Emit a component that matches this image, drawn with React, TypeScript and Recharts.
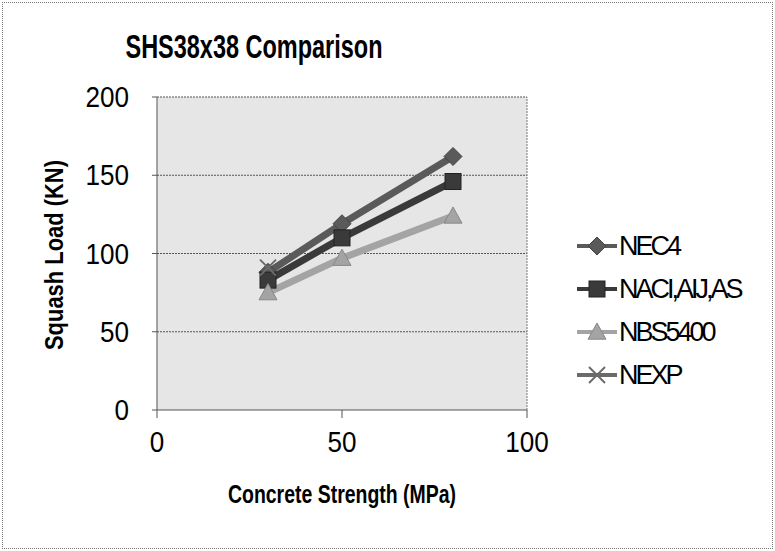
import React from "react";
import { LineChart, Line, XAxis, YAxis, CartesianGrid, ReferenceLine } from "recharts";

const strengths = [30, 50, 80];
const nec4 = [88, 119, 162];
const naci = [83, 110, 146];
const nbs5400 = [75, 97, 124];
const nexp: (number | null)[] = [91, null, null];
const xTicks = [0, 50, 100];
const yTicks = [0, 50, 100, 150, 200];
const seriesNames = ["NEC4", "NACI,AIJ,AS", "NBS5400", "NEXP"];
const legendLabels = ["NEC4", "NACI,AIJ,AS", "NBS5400", "NEXP"];

const data = strengths.map((x, i) => ({
  x,
  NEC4: nec4[i],
  "NACI,AIJ,AS": naci[i],
  NBS5400: nbs5400[i],
  NEXP: nexp[i],
}));

const colors = ["#5a5a5a", "#3a3a3a", "#a4a4a4", "#6a6a6a"];
const FONT = "'Liberation Sans', Arial, sans-serif";

function Marker({ kind, cx, cy, color }: { kind: number; cx: number; cy: number; color: string }) {
  if (cx == null || cy == null || isNaN(cx) || isNaN(cy)) return null;
  if (kind === 0) {
    const s = 9;
    return <polygon points={`${cx},${cy - s} ${cx + s},${cy} ${cx},${cy + s} ${cx - s},${cy}`} fill={color} stroke="#444" strokeWidth={1} />;
  }
  if (kind === 1) {
    const s = 8;
    return <rect x={cx - s} y={cy - s} width={2 * s} height={2 * s} fill={color} stroke="#222" strokeWidth={1} />;
  }
  if (kind === 2) {
    const s = 9;
    return <polygon points={`${cx},${cy - s} ${cx + s},${cy + s * 0.8} ${cx - s},${cy + s * 0.8}`} fill={color} stroke="#888" strokeWidth={1} />;
  }
  const s = 8;
  return (
    <g stroke={color} strokeWidth={2}>
      <line x1={cx - s} y1={cy - s} x2={cx + s} y2={cy + s} />
      <line x1={cx - s} y1={cy + s} x2={cx + s} y2={cy - s} />
    </g>
  );
}

const YTick = (props: any) => {
  const { x, y, payload } = props;
  const s = String(payload.value);
  return (
    <text x={x - 21} y={y} dy={10} textAnchor="end" fontFamily={FONT} fontSize={29} fill="#000" textLength={s.length * 14.5} lengthAdjust="spacingAndGlyphs">
      {s}
    </text>
  );
};

const XTick = (props: any) => {
  const { x, y, payload } = props;
  const s = String(payload.value);
  return (
    <text x={x} y={y + 22} dy={10} textAnchor="middle" fontFamily={FONT} fontSize={29} fill="#000" textLength={s.length * 14.5} lengthAdjust="spacingAndGlyphs">
      {s}
    </text>
  );
};

export default function App() {
  return (
    <div style={{ position: "absolute", left: 0, top: 0, width: 775, height: 551, background: "#fff" }}>
      <div style={{ position: "absolute", left: 2, top: 2, width: 769, height: 545, border: "1px dotted #777" }} />
      <svg style={{ position: "absolute", left: 0, top: 0 }} width={775} height={551}>
        <text x={254} y={58} textAnchor="middle" fontFamily={FONT} fontWeight="bold" fontSize={34} textLength={257} lengthAdjust="spacingAndGlyphs">
          SHS38x38 Comparison
        </text>
        <text x={342} y={503} textAnchor="middle" fontFamily={FONT} fontWeight="bold" fontSize={26} textLength={228} lengthAdjust="spacingAndGlyphs">
          Concrete Strength (MPa)
        </text>
        <text x={0} y={0} transform="translate(63,255) rotate(-90)" textAnchor="middle" fontFamily={FONT} fontWeight="bold" fontSize={26} textLength={190} lengthAdjust="spacingAndGlyphs">
          Squash Load (KN)
        </text>
      </svg>
      <div style={{ position: "absolute", left: 0, top: 0 }}>
        <LineChart width={775} height={551} data={data} margin={{ top: 97, right: 248, bottom: 81, left: 97 }}>
          <CartesianGrid vertical={false} fill="#e6e6e6" stroke="#555" strokeDasharray="2 1" horizontalValues={[50, 100, 150, 200]} />
          <XAxis type="number" dataKey="x" domain={[0, 100]} ticks={xTicks} height={60} tick={<XTick />} tickLine={{ stroke: "#555" }} tickSize={8} axisLine={{ stroke: "#555" }} interval={0} />
          <YAxis type="number" domain={[0, 200]} ticks={yTicks} width={60} tick={<YTick />} tickLine={{ stroke: "#555" }} tickSize={5} axisLine={{ stroke: "#555" }} interval={0} />
          <ReferenceLine x={100} stroke="#777" strokeDasharray="2 1" />
          {seriesNames.map((name, k) => (
            <Line
              key={name}
              dataKey={name}
              type="linear"
              stroke={colors[k]}
              strokeWidth={7}
              isAnimationActive={false}
              connectNulls={false}
              dot={(p: any) => <Marker key={`${name}-${p.index}`} kind={k} cx={p.cx} cy={p.cy} color={colors[k]} />}
              activeDot={false}
            />
          ))}
        </LineChart>
      </div>
      <div style={{ position: "absolute", left: 577, top: 224 }}>
        {legendLabels.map((label, k) => (
          <div key={label} style={{ display: "flex", alignItems: "center", height: 43 }}>
            <svg width={42} height={24}>
              <line x1={0} y1={12} x2={40} y2={12} stroke={colors[k]} strokeWidth={4} />
              <Marker kind={k} cx={20} cy={12} color={colors[k]} />
            </svg>
            <span style={{ fontFamily: FONT, fontSize: 27, letterSpacing: -3, color: "#000", lineHeight: "28px" }}>{label}</span>
          </div>
        ))}
      </div>
    </div>
  );
}
